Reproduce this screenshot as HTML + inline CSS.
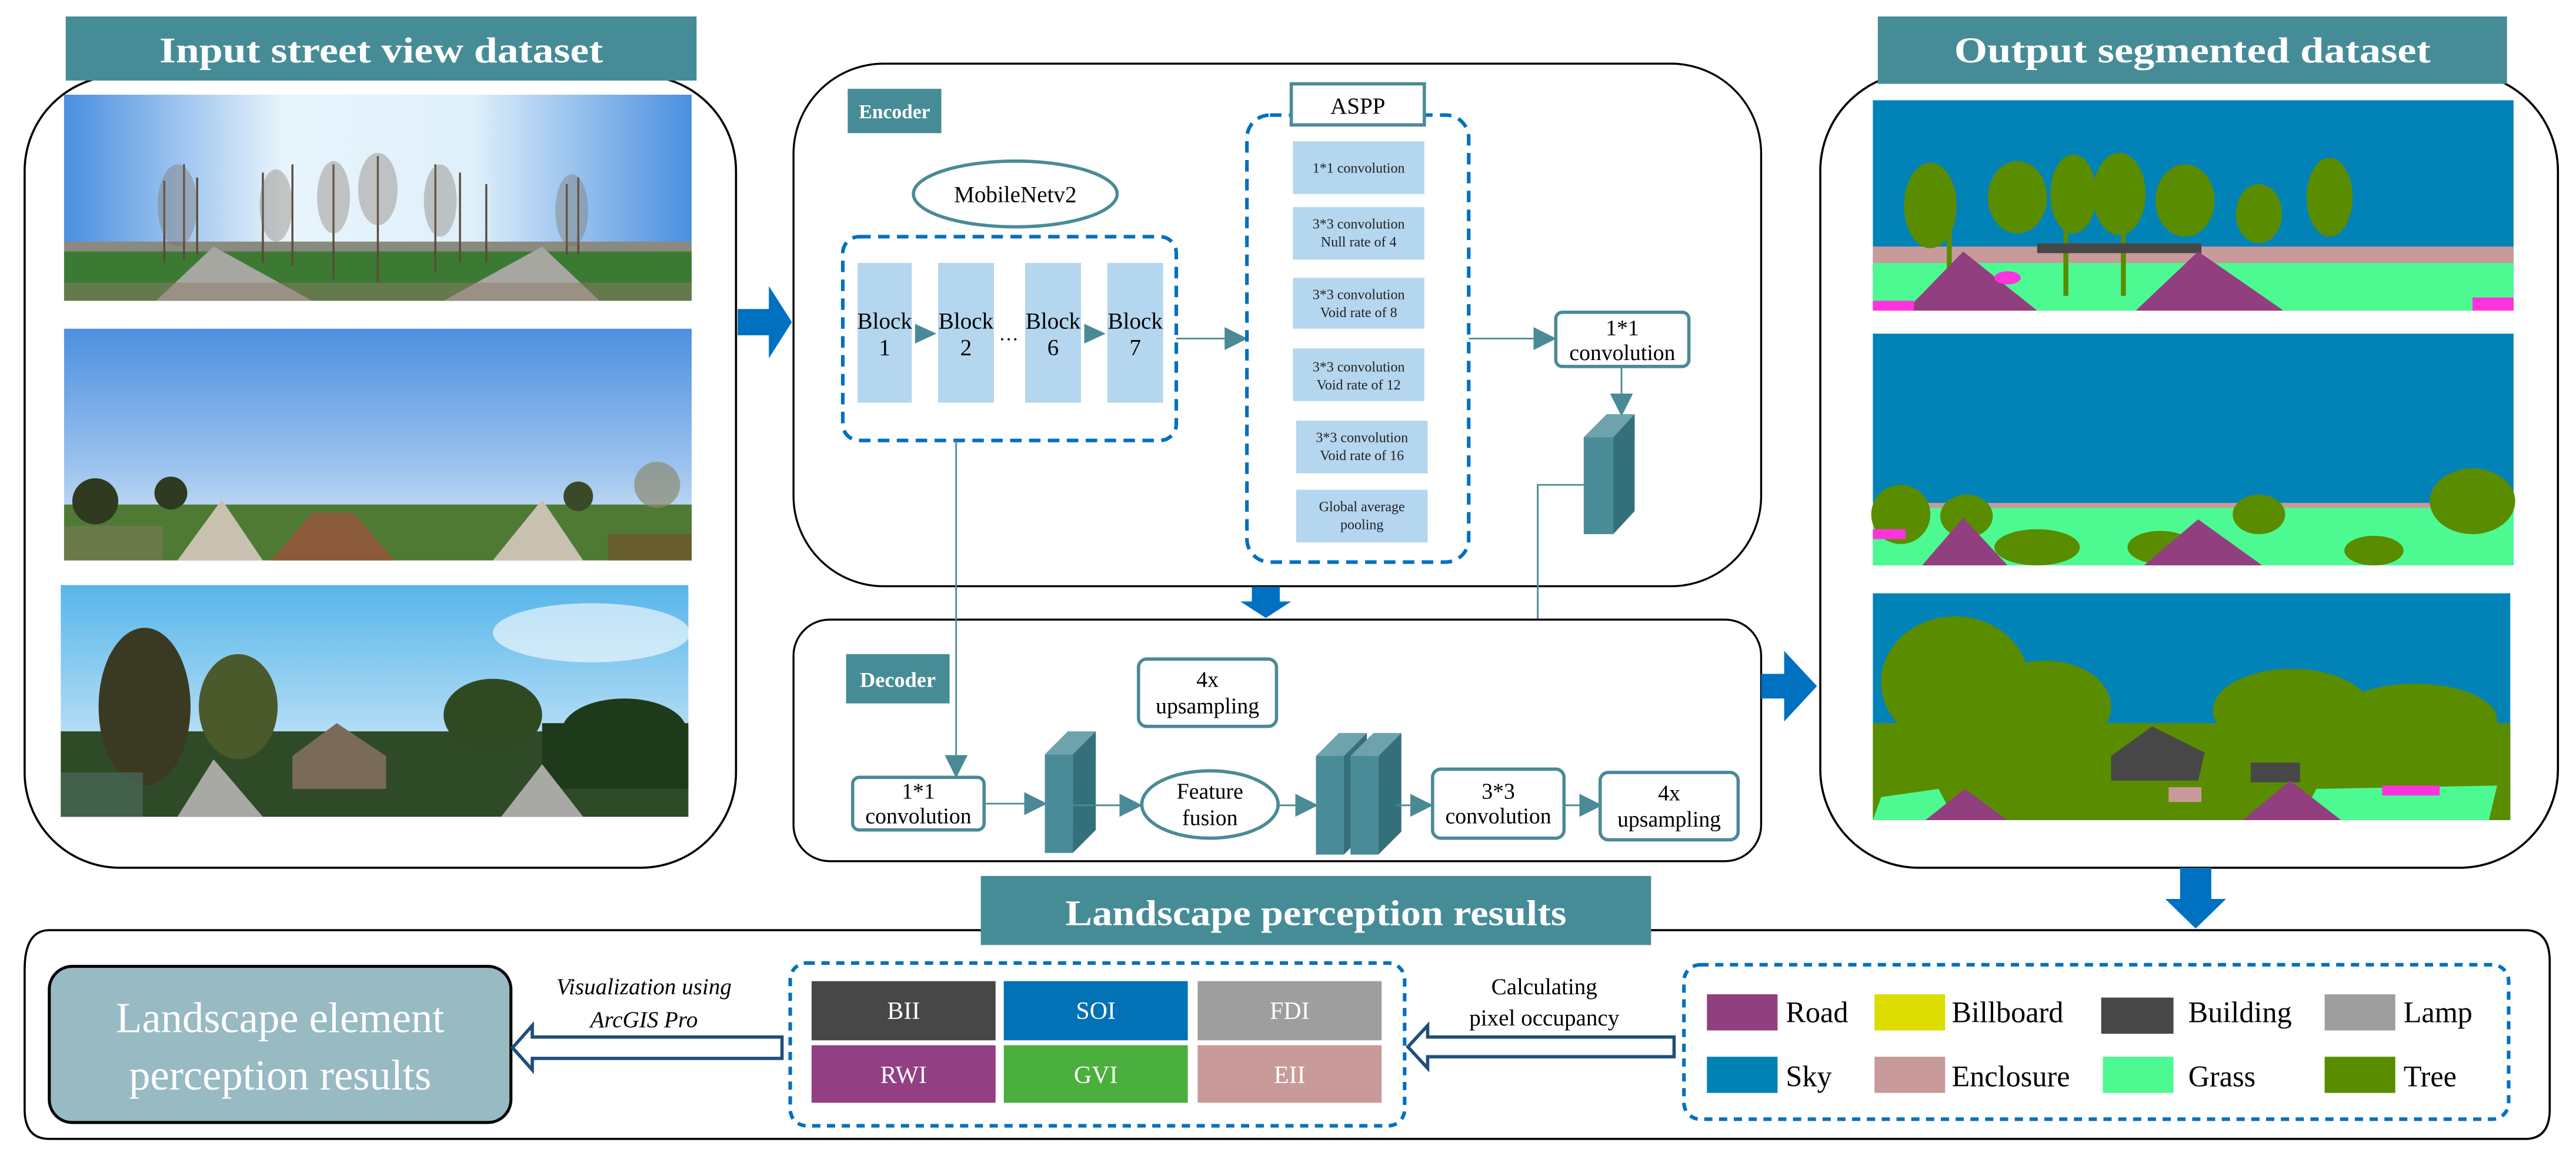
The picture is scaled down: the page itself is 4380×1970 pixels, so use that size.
<!DOCTYPE html>
<html><head><meta charset="utf-8"><style>
html,body{margin:0;padding:0;background:#fff;}
svg{display:block;}
text{font-family:"Liberation Serif",serif;}
</style></head><body>
<svg width="4380" height="1970" viewBox="0 0 1568 705.2" xmlns="http://www.w3.org/2000/svg">
<defs>
<linearGradient id="sky1" x1="0" y1="0" x2="1" y2="0">
<stop offset="0" stop-color="#4a8fe0"/><stop offset="0.35" stop-color="#e8f4fc"/><stop offset="0.65" stop-color="#dff0fb"/><stop offset="1" stop-color="#4a8fe0"/></linearGradient>
<linearGradient id="sky2" x1="0" y1="0" x2="0" y2="1">
<stop offset="0" stop-color="#4d8fe0"/><stop offset="0.6" stop-color="#9cc3ee"/><stop offset="1" stop-color="#e6eef6"/></linearGradient>
<linearGradient id="sky3" x1="0" y1="0" x2="0" y2="1">
<stop offset="0" stop-color="#57b6ea"/><stop offset="1" stop-color="#e9f3fb"/></linearGradient>
<marker id="ah" viewBox="0 0 10 10" refX="9" refY="5" markerWidth="14" markerHeight="14" markerUnits="userSpaceOnUse" orient="auto"><path d="M0,0 L10,5 L0,10 z" fill="#4a8a96"/></marker>
</defs>

<!-- ============ LEFT PANEL ============ -->
<rect x="15" y="46" width="433" height="482" rx="58" fill="#fff" stroke="#000" stroke-width="1.3"/>
<rect x="40" y="10" width="384" height="39" fill="#468c97"/>
<text x="232" y="38" text-anchor="middle" font-size="22" font-weight="bold" fill="#fff" textLength="270" lengthAdjust="spacingAndGlyphs">Input street view dataset</text>

<!-- photo 1 -->
<g>
<rect x="39" y="57.6" width="382" height="125" fill="url(#sky1)"/>
<rect x="39" y="151" width="382" height="32" fill="#3c7a34"/>
<rect x="39" y="147" width="382" height="6" fill="#8a8a80"/>
<polygon points="130,150 95,183 190,183" fill="#a7a7a2"/>
<polygon points="330,150 270,183 365,183" fill="#a7a7a2"/>
<rect x="39" y="172" width="382" height="11" fill="#8d7a64" opacity="0.5"/>
<g stroke="#5a4a3a" stroke-width="1.2">
<line x1="100" y1="160" x2="100" y2="110"/><line x1="112" y1="158" x2="112" y2="100"/><line x1="120" y1="155" x2="120" y2="108"/>
<line x1="160" y1="160" x2="160" y2="105"/><line x1="178" y1="162" x2="178" y2="100"/><line x1="203" y1="170" x2="203" y2="100"/>
<line x1="230" y1="172" x2="230" y2="95"/><line x1="265" y1="166" x2="265" y2="100"/><line x1="280" y1="160" x2="280" y2="105"/>
<line x1="296" y1="160" x2="296" y2="112"/><line x1="345" y1="155" x2="345" y2="112"/><line x1="352" y1="155" x2="352" y2="108"/>
</g>
<g fill="#7a6a5a" opacity="0.35">
<ellipse cx="108" cy="125" rx="12" ry="25"/><ellipse cx="168" cy="125" rx="10" ry="22"/><ellipse cx="203" cy="120" rx="10" ry="22"/>
<ellipse cx="230" cy="115" rx="12" ry="22"/><ellipse cx="268" cy="122" rx="10" ry="22"/><ellipse cx="348" cy="128" rx="10" ry="22"/>
</g>
</g>
<!-- photo 2 -->
<g>
<rect x="39" y="200" width="382" height="141" fill="url(#sky2)"/>
<rect x="39" y="307" width="382" height="34" fill="#4f7a34"/>
<polygon points="135,304 108,341 160,341" fill="#c9c1b0"/>
<polygon points="330,304 300,341 355,341" fill="#c9c1b0"/>
<polygon points="190,312 165,341 240,341 215,312" fill="#8a5a3a"/>
<rect x="39" y="320" width="60" height="21" fill="#6a7a4a"/>
<circle cx="58" cy="305" r="14" fill="#2f3a20"/><circle cx="104" cy="300" r="10" fill="#2f3a20"/>
<circle cx="352" cy="302" r="9" fill="#3a4a28"/><circle cx="400" cy="295" r="14" fill="#8a8a70" opacity="0.7"/>
<rect x="370" y="325" width="51" height="16" fill="#7a4a2a" opacity="0.6"/>
</g>
<!-- photo 3 -->
<g>
<rect x="37" y="356" width="382" height="141" fill="url(#sky3)"/>
<ellipse cx="360" cy="385" rx="60" ry="18" fill="#fff" opacity="0.6"/>
<rect x="37" y="445" width="382" height="52" fill="#2f4a26"/>
<ellipse cx="88" cy="430" rx="28" ry="48" fill="#3a3a22"/>
<ellipse cx="145" cy="430" rx="24" ry="32" fill="#4a5a2a"/>
<polygon points="178,460 205,440 235,460 235,480 178,480" fill="#7a6a5a"/>
<ellipse cx="300" cy="435" rx="30" ry="22" fill="#2f4a22"/>
<rect x="330" y="440" width="89" height="40" fill="#1f3a1a"/>
<ellipse cx="380" cy="445" rx="38" ry="20" fill="#1f3a1a"/>
<polygon points="130,462 108,497 160,497" fill="#a8a8a4"/>
<polygon points="330,465 305,497 355,497" fill="#a8a8a4"/>
<rect x="37" y="470" width="50" height="27" fill="#4a6a5a" opacity="0.7"/>
</g>

<!-- big right arrow -->
<polygon points="449,188 468,188 468,174 482,196 468,218 468,204 449,204" fill="#0070c0"/>

<!-- ============ ENCODER ============ -->
<rect x="483" y="38.7" width="589" height="318" rx="55" fill="#fff" stroke="#000" stroke-width="1.2"/>
<rect x="516" y="54" width="57" height="27" fill="#468c97"/>
<text x="544.5" y="72" text-anchor="middle" font-size="12" font-weight="bold" fill="#fff">Encoder</text>

<ellipse cx="618" cy="118" rx="62" ry="20" fill="#fff" stroke="#4a8a96" stroke-width="2"/>
<text x="618" y="123" text-anchor="middle" font-size="14">MobileNetv2</text>

<rect x="513" y="144" width="203" height="124" rx="10" fill="none" stroke="#0070c0" stroke-width="2.2" stroke-dasharray="7,4.5"/>
<g fill="#b4d6ee">
<rect x="522" y="160" width="33" height="85"/><rect x="571" y="160" width="34" height="85"/>
<rect x="624" y="160" width="34" height="85"/><rect x="674" y="160" width="34" height="85"/>
</g>
<g font-size="14" text-anchor="middle">
<text x="538.5" y="200">Block</text><text x="538.5" y="216">1</text>
<text x="588" y="200">Block</text><text x="588" y="216">2</text>
<text x="641" y="200">Block</text><text x="641" y="216">6</text>
<text x="691" y="200">Block</text><text x="691" y="216">7</text>
</g>
<text x="614" y="207" text-anchor="middle" font-size="12">…</text>
<g fill="#4a8a96">
<polygon points="557,197 570,203 557,209"/><polygon points="660,197 673,203 660,209"/>
</g>
<line x1="716" y1="206" x2="758" y2="206" stroke="#4a8a96" stroke-width="1" marker-end="url(#ah)"/>

<!-- ASPP -->
<rect x="759" y="70" width="135" height="272" rx="14" fill="none" stroke="#0070c0" stroke-width="2.2" stroke-dasharray="7,4.5"/>
<rect x="786" y="51" width="81" height="25" fill="#fff" stroke="#4a8a96" stroke-width="2"/>
<text x="826.5" y="69" text-anchor="middle" font-size="14">ASPP</text>
<g fill="#b4d6ee">
<rect x="787" y="86" width="80" height="32"/><rect x="787" y="126" width="80" height="32"/>
<rect x="787" y="169" width="80" height="31"/><rect x="787" y="212" width="80" height="32"/>
<rect x="789" y="256" width="80" height="32"/><rect x="789" y="298" width="80" height="32"/>
</g>
<g font-size="8.6" text-anchor="middle" fill="#222">
<text x="827" y="105">1*1 convolution</text>
<text x="827" y="139">3*3 convolution</text><text x="827" y="150">Null rate of 4</text>
<text x="827" y="182">3*3 convolution</text><text x="827" y="193">Void rate of 8</text>
<text x="827" y="226">3*3 convolution</text><text x="827" y="237">Void rate of 12</text>
<text x="829" y="269">3*3 convolution</text><text x="829" y="280">Void rate of 16</text>
<text x="829" y="311">Global average</text><text x="829" y="322">pooling</text>
</g>
<line x1="894" y1="206" x2="946" y2="206" stroke="#4a8a96" stroke-width="1" marker-end="url(#ah)"/>

<rect x="947" y="190" width="81" height="33" rx="4" fill="#fff" stroke="#4a8a96" stroke-width="2"/>
<text x="987.5" y="204" text-anchor="middle" font-size="13.5">1*1</text>
<text x="987.5" y="219" text-anchor="middle" font-size="13.5">convolution</text>
<line x1="987" y1="223" x2="987" y2="252" stroke="#4a8a96" stroke-width="1" marker-end="url(#ah)"/>

<!-- 3D block encoder -->
<g>
<rect x="964" y="266" width="18" height="59" fill="#4a8b98"/>
<polygon points="964,266 978,252 995,252 982,266" fill="#6ea3ad"/>
<polygon points="982,266 995,252 995,311 982,325" fill="#34707c"/>
</g>
<polyline points="964,295 936,295 936,421 779,421" fill="none" stroke="#4a8a96" stroke-width="1" marker-end="url(#ah)"/>

<!-- down arrow enc->dec -->
<polygon points="762,357 779,357 779,366 786,366 770.5,376 755,366 762,366" fill="#0070c0"/>

<!-- ============ DECODER ============ -->
<rect x="483" y="377" width="589" height="147" rx="22" fill="#fff" stroke="#000" stroke-width="1.2"/>
<rect x="515" y="398" width="63" height="30" fill="#468c97"/>
<text x="546.5" y="418" text-anchor="middle" font-size="13" font-weight="bold" fill="#fff">Decoder</text>

<rect x="693" y="401" width="84" height="41" rx="5" fill="#fff" stroke="#4a8a96" stroke-width="2"/>
<text x="735" y="418" text-anchor="middle" font-size="13.5">4x</text>
<text x="735" y="434" text-anchor="middle" font-size="13.5">upsampling</text>

<line x1="582" y1="268" x2="582" y2="472" stroke="#4a8a96" stroke-width="1" marker-end="url(#ah)"/>

<rect x="519" y="473" width="80" height="32" rx="4" fill="#fff" stroke="#4a8a96" stroke-width="2"/>
<text x="559" y="486" text-anchor="middle" font-size="13.5">1*1</text>
<text x="559" y="501" text-anchor="middle" font-size="13.5">convolution</text>
<line x1="599" y1="489" x2="636" y2="489" stroke="#4a8a96" stroke-width="1" marker-end="url(#ah)"/>

<g>
<rect x="636" y="459" width="17" height="60" fill="#4a8b98"/>
<polygon points="636,459 650,445 667,445 653,459" fill="#6ea3ad"/>
<polygon points="653,459 667,445 667,505 653,519" fill="#34707c"/>
</g>
<line x1="653" y1="490" x2="694" y2="490" stroke="#4a8a96" stroke-width="1" marker-end="url(#ah)"/>

<ellipse cx="736.5" cy="489.5" rx="41.5" ry="20.5" fill="#fff" stroke="#4a8a96" stroke-width="2"/>
<text x="736.5" y="486" text-anchor="middle" font-size="13.5">Feature</text>
<text x="736.5" y="502" text-anchor="middle" font-size="13.5">fusion</text>
<line x1="778" y1="490" x2="801" y2="490" stroke="#4a8a96" stroke-width="1" marker-end="url(#ah)"/>

<g>
<rect x="801" y="460" width="17" height="60" fill="#4a8b98"/>
<polygon points="801,460 815,446 832,446 818,460" fill="#6ea3ad"/>
<polygon points="818,460 832,446 832,506 818,520" fill="#34707c"/>
<rect x="822" y="460" width="17" height="60" fill="#4a8b98"/>
<polygon points="822,460 836,446 853,446 839,460" fill="#6ea3ad"/>
<polygon points="839,460 853,446 853,506 839,520" fill="#34707c"/>
</g>
<line x1="850" y1="490" x2="871" y2="490" stroke="#4a8a96" stroke-width="1" marker-end="url(#ah)"/>

<rect x="872" y="468" width="80" height="42" rx="5" fill="#fff" stroke="#4a8a96" stroke-width="2"/>
<text x="912" y="486" text-anchor="middle" font-size="13.5">3*3</text>
<text x="912" y="501" text-anchor="middle" font-size="13.5">convolution</text>
<line x1="952" y1="490" x2="974" y2="490" stroke="#4a8a96" stroke-width="1" marker-end="url(#ah)"/>

<rect x="974" y="470" width="84" height="41" rx="5" fill="#fff" stroke="#4a8a96" stroke-width="2"/>
<text x="1016" y="487" text-anchor="middle" font-size="13.5">4x</text>
<text x="1016" y="503" text-anchor="middle" font-size="13.5">upsampling</text>

<!-- arrow decoder -> output -->
<polygon points="1072,410 1086,410 1086,396 1106,417.5 1086,439 1086,425 1072,425" fill="#0070c0"/>

<!-- ============ OUTPUT PANEL ============ -->
<rect x="1108" y="44" width="449" height="484" rx="60" fill="#fff" stroke="#000" stroke-width="1.3"/>
<rect x="1143" y="10" width="383" height="41" fill="#468c97"/>
<text x="1334.5" y="38" text-anchor="middle" font-size="22" font-weight="bold" fill="#fff" textLength="290" lengthAdjust="spacingAndGlyphs">Output segmented dataset</text>

<!-- seg 1 -->
<g>
<rect x="1140" y="61" width="390" height="128" fill="#0283b8"/>
<rect x="1140" y="150" width="390" height="15" fill="#c89a9a"/>
<rect x="1140" y="160" width="390" height="29" fill="#4cfa91"/>
<g fill="#5a8c00">
<ellipse cx="1175" cy="125" rx="16" ry="26"/><ellipse cx="1228" cy="120" rx="18" ry="22"/><ellipse cx="1262" cy="118" rx="14" ry="24"/>
<ellipse cx="1290" cy="118" rx="16" ry="25"/><ellipse cx="1330" cy="122" rx="18" ry="22"/><ellipse cx="1375" cy="130" rx="14" ry="18"/>
<ellipse cx="1418" cy="120" rx="14" ry="24"/>
<rect x="1185" y="140" width="3" height="30"/><rect x="1256" y="140" width="3" height="40"/><rect x="1291" y="140" width="3" height="40"/>
</g>
<rect x="1240" y="148" width="100" height="6" fill="#474747"/>
<polygon points="1338,153 1300,189 1390,189" fill="#923f7f"/>
<polygon points="1195,153 1160,189 1240,189" fill="#923f7f"/>
<rect x="1140" y="183" width="25" height="6" fill="#ff33dd"/><rect x="1505" y="181" width="25" height="8" fill="#ff33dd"/>
<ellipse cx="1222" cy="169" rx="8" ry="4" fill="#ff33dd"/>
</g>
<!-- seg 2 -->
<g>
<rect x="1140" y="203" width="390" height="141" fill="#0283b8"/>
<rect x="1140" y="306" width="390" height="5" fill="#c89a9a"/>
<rect x="1140" y="309" width="390" height="35" fill="#4cfa91"/>
<g fill="#5a8c00">
<ellipse cx="1157" cy="313" rx="18" ry="18"/><ellipse cx="1197" cy="314" rx="16" ry="13"/>
<ellipse cx="1375" cy="313" rx="16" ry="12"/><ellipse cx="1505" cy="305" rx="26" ry="20"/>
<ellipse cx="1240" cy="333" rx="26" ry="11"/><ellipse cx="1315" cy="333" rx="20" ry="10"/><ellipse cx="1445" cy="335" rx="18" ry="9"/>
</g>
<polygon points="1338,316 1305,344 1377,344" fill="#923f7f"/>
<polygon points="1195,315 1170,344 1222,344" fill="#923f7f"/>
<rect x="1140" y="322" width="20" height="6" fill="#ff33dd"/>
</g>
<!-- seg 3 -->
<g>
<rect x="1140" y="361" width="388" height="138" fill="#0283b8"/>
<g fill="#5a8c00">
<ellipse cx="1190" cy="415" rx="45" ry="40"/><ellipse cx="1245" cy="430" rx="40" ry="28"/>
<rect x="1140" y="440" width="388" height="59"/>
<ellipse cx="1395" cy="432" rx="48" ry="25"/><ellipse cx="1470" cy="438" rx="50" ry="22"/>
</g>
<polygon points="1285,460 1310,442 1342,458 1338,475 1285,475" fill="#474747"/>
<rect x="1370" y="464" width="30" height="12" fill="#474747"/>
<rect x="1320" y="479" width="20" height="9" fill="#c89a9a"/>
<polygon points="1145,485 1180,480 1190,499 1140,499" fill="#4cfa91"/>
<polygon points="1410,480 1520,478 1515,499 1400,499" fill="#4cfa91"/>
<polygon points="1196,480 1172,499 1222,499" fill="#923f7f"/>
<polygon points="1394,475 1365,499 1425,499" fill="#923f7f"/>
<rect x="1450" y="478" width="35" height="6" fill="#ff33dd"/>
</g>

<!-- down arrow to bottom -->
<polygon points="1327,528 1346,528 1346,547 1355,547 1336.5,565 1318,547 1327,547" fill="#0070c0"/>

<!-- ============ BOTTOM PANEL ============ -->
<path d="M597,566 L30,566 Q15,566 15,590 L15,675 Q15,693 30,693 L1537,693 Q1552,693 1552,675 L1552,585 Q1552,566 1537,566 L1005,566" fill="#fff" stroke="#000" stroke-width="1.3"/>
<rect x="597" y="533" width="408" height="42" fill="#468c97"/>
<text x="801" y="563" text-anchor="middle" font-size="22" font-weight="bold" fill="#fff" textLength="305" lengthAdjust="spacingAndGlyphs">Landscape perception results</text>

<rect x="30" y="588" width="281" height="95" rx="14" fill="#97bac3" stroke="#000" stroke-width="1.8"/>
<text x="170.5" y="628" text-anchor="middle" font-size="26" fill="#fff">Landscape element</text>
<text x="170.5" y="663" text-anchor="middle" font-size="26" fill="#fff">perception results</text>

<text x="392" y="605" text-anchor="middle" font-size="14" font-style="italic">Visualization using</text>
<text x="392" y="625" text-anchor="middle" font-size="14" font-style="italic">ArcGIS Pro</text>
<polygon points="476,631 324,631 324,624 312,637.5 324,651 324,644 476,644" fill="#fff" stroke="#1f4e79" stroke-width="2"/>

<rect x="481" y="586" width="374" height="99" rx="10" fill="none" stroke="#0070c0" stroke-width="2.2" stroke-dasharray="5,4"/>
<rect x="494" y="597" width="112" height="36" fill="#474747"/>
<rect x="611" y="597" width="112" height="36" fill="#0072b5"/>
<rect x="729" y="597" width="112" height="36" fill="#9e9e9e"/>
<rect x="494" y="636" width="112" height="35" fill="#923f83"/>
<rect x="611" y="636" width="112" height="35" fill="#4aaf3c"/>
<rect x="729" y="636" width="112" height="35" fill="#c89a9a"/>
<g font-size="15" fill="#fff" text-anchor="middle">
<text x="550" y="620">BII</text><text x="667" y="620">SOI</text><text x="785" y="620">FDI</text>
<text x="550" y="659">RWI</text><text x="667" y="659">GVI</text><text x="785" y="659">EII</text>
</g>

<text x="940" y="605" text-anchor="middle" font-size="14">Calculating</text>
<text x="940" y="624" text-anchor="middle" font-size="14">pixel occupancy</text>
<polygon points="1019,631 869,631 869,624 857,637 869,650 869,643 1019,643" fill="#fff" stroke="#1f4e79" stroke-width="2"/>

<rect x="1025" y="587" width="502" height="94" rx="10" fill="none" stroke="#0070c0" stroke-width="2.2" stroke-dasharray="5,4"/>
<rect x="1039" y="605" width="43" height="22" fill="#923f7f"/>
<rect x="1141" y="605" width="43" height="22" fill="#dcdc00"/>
<rect x="1279" y="607" width="44" height="22" fill="#474747"/>
<rect x="1415" y="605" width="43" height="22" fill="#9e9e9e"/>
<rect x="1039" y="643" width="43" height="22" fill="#0082b4"/>
<rect x="1141" y="643" width="43" height="22" fill="#c89a9a"/>
<rect x="1280" y="643" width="43" height="22" fill="#4cfa91"/>
<rect x="1415" y="643" width="43" height="22" fill="#5a8c00"/>
<g font-size="18">
<text x="1087" y="622">Road</text><text x="1188" y="622">Billboard</text><text x="1332" y="622">Building</text><text x="1463" y="622">Lamp</text>
<text x="1087" y="661">Sky</text><text x="1188" y="661">Enclosure</text><text x="1332" y="661">Grass</text><text x="1463" y="661">Tree</text>
</g>
</svg>
</body></html>
